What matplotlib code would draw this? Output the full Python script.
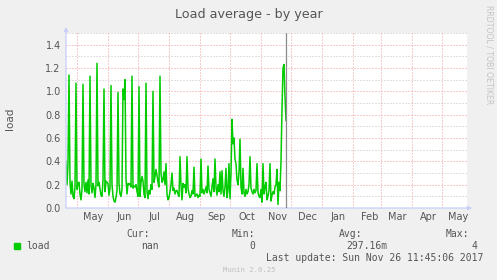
import matplotlib
matplotlib.use('Agg')
import matplotlib.pyplot as plt
import matplotlib.dates as mdates
from matplotlib.patches import Rectangle
import datetime as dt

W, H = 497, 280

# daily load values, first one on 2017-04-20
start_day = dt.datetime(2017, 4, 20)
end_day = dt.datetime(2018, 5, 26)
now = dt.datetime(2017, 11, 26, 11, 45, 6)

load = [
    0.40, 0.20, 0.38, 1.14, 0.22, 0.12, 0.23, 0.10, 0.08, 0.18,
    1.07, 0.16, 0.21, 0.22, 0.12, 0.07, 0.16, 1.06, 0.20, 0.14,
    0.22, 0.13, 0.24, 0.12, 1.13, 0.20, 0.13, 0.21, 0.17, 0.09,
    0.20, 1.24, 0.19, 0.22, 0.16, 0.11, 0.10, 0.24, 1.02, 0.14,
    0.23, 0.22, 0.21, 0.11, 0.17, 1.05, 0.20, 0.10, 0.06, 0.05,
    0.09, 0.15, 0.99, 0.21, 0.12, 0.10, 0.16, 1.02, 0.93, 1.10,
    0.25, 0.12, 0.21, 0.20, 0.21, 0.18, 1.13, 0.17, 0.19, 0.18,
    0.20, 0.14, 0.10, 1.04, 0.10, 0.22, 0.27, 0.23, 0.12, 0.09,
    1.07, 0.14, 0.08, 0.15, 0.12, 0.20, 0.16, 1.00, 0.22, 0.27,
    0.33, 0.28, 0.22, 0.18, 1.13, 0.30, 0.22, 0.24, 0.31, 0.20,
    0.38, 0.12, 0.07, 0.09, 0.14, 0.20, 0.30, 0.15, 0.17, 0.12,
    0.15, 0.15, 0.12, 0.10, 0.44, 0.20, 0.07, 0.21, 0.18, 0.20,
    0.13, 0.44, 0.17, 0.12, 0.09, 0.10, 0.15, 0.12, 0.35, 0.10,
    0.11, 0.12, 0.09, 0.11, 0.10, 0.42, 0.13, 0.16, 0.12, 0.15,
    0.18, 0.13, 0.36, 0.16, 0.13, 0.10, 0.18, 0.25, 0.14, 0.42,
    0.18, 0.11, 0.20, 0.14, 0.31, 0.12, 0.32, 0.15, 0.10, 0.18,
    0.34, 0.09, 0.15, 0.38, 0.08, 0.30, 0.76, 0.55, 0.60, 0.42,
    0.38, 0.24, 0.20, 0.30, 0.59, 0.18, 0.12, 0.34, 0.13, 0.10,
    0.16, 0.12, 0.14, 0.20, 0.44, 0.17, 0.14, 0.12, 0.16, 0.13,
    0.15, 0.38, 0.13, 0.10, 0.09, 0.16, 0.05, 0.38, 0.12, 0.18,
    0.22, 0.07, 0.10, 0.15, 0.38, 0.06, 0.11, 0.14, 0.12, 0.18,
    0.20, 0.33, 0.03, 0.22, 0.15, 0.40, 0.85, 1.20, 1.23, 0.95,
    0.75,
]
days = [start_day + dt.timedelta(days=i) for i in range(len(load))]

month_starts = [dt.datetime(2017, m, 1) for m in range(5, 13)] + \
               [dt.datetime(2018, m, 1) for m in range(1, 6)]
month_labels = ['May', 'Jun', 'Jul', 'Aug', 'Sep', 'Oct', 'Nov',
                'Dec', 'Jan', 'Feb', 'Mar', 'Apr', 'May']

y_major = [0.2, 0.4, 0.6, 0.8, 1.0, 1.2, 1.4]
y_minor = [0.1, 0.3, 0.5, 0.7, 0.9, 1.1, 1.3, 1.5]
y_ticks = [0.0, 0.2, 0.4, 0.6, 0.8, 1.0, 1.2, 1.4]
y_ticklabels = ['0.0', '0.2', '0.4', '0.6', '0.8', '1.0', '1.2', '1.4']

stat_cur = 'nan'
stat_min = '0'
stat_avg = '297.16m'
stat_max = '4'

font_col = '#555555'
axis_col = '#c8cff8'
mono = 'DejaVu Sans Mono'

fig = plt.figure(figsize=(W / 100, H / 100), dpi=100, facecolor='#f0f0f0')
ax = fig.add_axes([66 / W, 1 - 208 / H, (467 - 66) / W, (208 - 33) / H])
ax.set_facecolor('white')

dots = (0, (1, 2))
for v in y_minor:
    ax.axhline(v, color='#c4c4c4', lw=0.72, ls=dots, zorder=1)
for v in y_major:
    ax.axhline(v, color='#f09a9a', lw=0.72, ls=dots, zorder=1)
for m in month_starts:
    ax.axvline(m, color='#f09a9a', lw=0.72, ls=dots, zorder=1)

ax.plot(days, load, color='#00cc00', lw=1.1, zorder=3)
ax.axvline(now, color='#8a8a8a', lw=0.9, zorder=4)

ax.set_xlim(start_day, end_day)
ax.set_ylim(0, 1.5)

mid = [mdates.date2num(m) + 16.5 for m in month_starts]
ax.set_xticks(mid)
ax.set_xticklabels(month_labels)
ax.set_yticks(y_ticks)
ax.set_yticklabels(y_ticklabels)
ax.tick_params(axis='x', length=0, pad=3, labelsize=7, labelcolor=font_col)
ax.tick_params(axis='y', length=0, pad=3.8, labelsize=7, labelcolor=font_col)

for s in ax.spines.values():
    s.set_visible(False)

# rrdtool style axes with arrows
ax.annotate('', xy=(0, 1.035), xytext=(0, 0), xycoords='axes fraction',
            arrowprops=dict(arrowstyle='-|>', color=axis_col, lw=0.9,
                            mutation_scale=6, shrinkA=0, shrinkB=0))
ax.annotate('', xy=(1.013, 0), xytext=(0, 0), xycoords='axes fraction',
            arrowprops=dict(arrowstyle='-|>', color=axis_col, lw=0.9,
                            mutation_scale=6, shrinkA=0, shrinkB=0))

fig.text(0.5, 1 - 18.3 / H, 'Load average - by year', ha='center',
         va='baseline', fontsize=9.2, color=font_col)
fig.text(10 / W, 1 - 119 / H, 'load', rotation=90, ha='center', va='center',
         fontsize=7.5, color=font_col)
fig.text(489.5 / W, 1 - 5 / H, 'RRDTOOL / TOBI OETIKER', rotation=270,
         ha='center', va='top', fontsize=5.6, color='#c4c4c4')

# legend
fig.patches.append(Rectangle((14 / W, 1 - 248.5 / H), 6 / W, 6 / H,
                             transform=fig.transFigure, color='#00cc00'))


def ltext(x, y, s, ha='right', **kw):
    fig.text(x / W, 1 - y / H, s, ha=ha, va='baseline', family=mono,
             fontsize=7, color=font_col, **kw)


ltext(26, 249.3, 'load', ha='left')
ltext(149.5, 236.7, 'Cur:')
ltext(158.5, 249.3, stat_cur)
ltext(255.5, 236.7, 'Min:')
ltext(255, 249.3, stat_min)
ltext(362.5, 236.7, 'Avg:')
ltext(387, 249.3, stat_avg)
ltext(469.5, 236.7, 'Max:')
ltext(477, 249.3, stat_max)
ltext(483.5, 260.7, 'Last update: Sun Nov 26 11:45:06 2017')
fig.text(249 / W, 1 - 271.7 / H, 'Munin 2.0.25', ha='center', va='baseline',
         family=mono, fontsize=5.2, color='#c0c0c0')

fig.savefig('out.png', dpi=100, facecolor=fig.get_facecolor())
